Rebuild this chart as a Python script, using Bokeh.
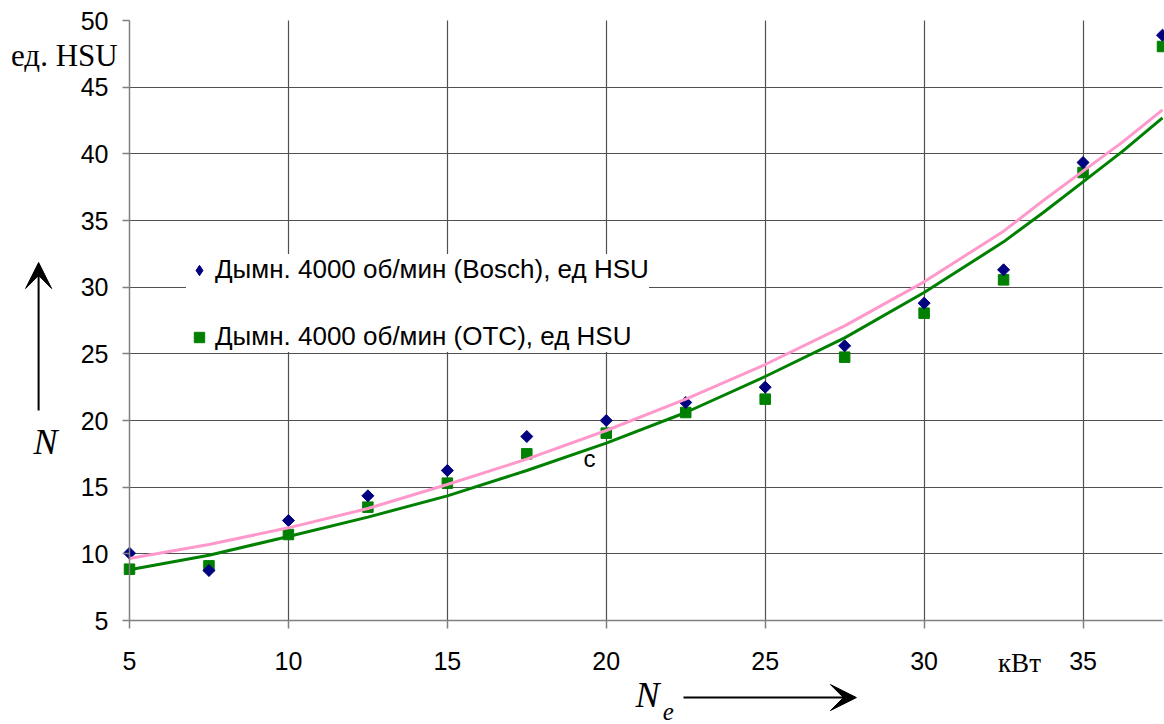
import math
from bokeh.plotting import figure
from bokeh.models import (Range1d, FixedTicker, Legend, LegendItem, Label, Arrow,
                          VeeHead, ColumnDataSource, LinearAxis, Grid)
from bokeh.embed import file_html
from bokeh.resources import INLINE

# ---- data ----
ne_kw = [5, 7.5, 10, 12.5, 15, 17.5, 20, 22.5, 25, 27.5, 30, 32.5, 35, 37.5]
smoke_bosch = [10.05, 8.75, 12.5, 14.35, 16.25, 18.8, 20.0, 21.35, 22.5, 25.6, 28.8, 31.3, 39.35, 48.9]
smoke_otc = [8.85, 9.1, 11.45, 13.5, 15.3, 17.5, 19.05, 20.6, 21.6, 24.75, 28.05, 30.55, 38.6, 48.05]

trend_x = [5, 7.5, 10, 12.5, 15, 17.5, 20, 22.5, 25, 27.5, 30, 32.5, 33.75, 35, 36.25, 37.5]
trend_bosch = [9.65, 10.7, 11.95, 13.4, 15.2, 17.1, 19.25, 21.6, 24.2, 27.1, 30.4, 34.2, 36.5, 38.7, 40.9, 43.3]
trend_otc = [8.8, 9.9, 11.3, 12.75, 14.35, 16.25, 18.3, 20.6, 23.3, 26.2, 29.6, 33.4, 35.6, 37.9, 40.2, 42.7]

x_ticks = [5, 10, 15, 20, 25, 30, 35]
y_ticks = [5, 10, 15, 20, 25, 30, 35, 40, 45, 50]

label_bosch = "Дымн. 4000 об/мин (Bosch), ед HSU"
label_otc = "Дымн. 4000 об/мин (OTC), ед HSU"

SANS = "Liberation Sans"
SERIF = "Liberation Serif"

# ---- layout: the frame fills the canvas, axes are pinned at the data origin ----
W, H = 1164, 724
PX_L, PX_R, PX_T, PX_B = 129, 1162, 20, 620      # pixel box of the data area
X0, X1, Y0, Y1 = 5, 37.5, 5, 50
kx = (PX_R - PX_L) / (X1 - X0)
ky = (PX_B - PX_T) / (Y1 - Y0)
x_range = Range1d(X0 - PX_L / kx, X1 + (W - PX_R) / kx)
y_range = Range1d(Y0 - (H - PX_B) / ky, Y1 + PX_T / ky)

p = figure(width=W, height=H, output_backend="svg", toolbar_location=None,
           x_range=x_range, y_range=y_range, x_axis_type=None, y_axis_type=None,
           min_border=0, min_border_left=0, min_border_right=0,
           min_border_top=0, min_border_bottom=0)
p.outline_line_color = None
p.background_fill_color = "white"
p.border_fill_color = "white"

GRID_COLOR = "#505050"
vgrid = Grid(dimension=0, ticker=FixedTicker(ticks=x_ticks[1:]),
             grid_line_color=GRID_COLOR, grid_line_width=1.2)
hgrid = Grid(dimension=1, ticker=FixedTicker(ticks=y_ticks[1:-1]),
             grid_line_color=GRID_COLOR, grid_line_width=1.2)
if "cross_bounds" in Grid.properties():
    vgrid.cross_bounds = (Y0, Y1)
    hgrid.cross_bounds = (X0, X1)
    p.add_layout(vgrid, "center")
    p.add_layout(hgrid, "center")
else:
    gx = x_ticks[1:]
    gy = y_ticks[1:-1]
    p.segment(x0=gx, y0=[Y0] * len(gx), x1=gx, y1=[Y1] * len(gx),
              line_color=GRID_COLOR, line_width=1.2)
    p.segment(x0=[X0] * len(gy), y0=gy, x1=[X1] * len(gy), y1=gy,
              line_color=GRID_COLOR, line_width=1.2)

def style_axis(ax):
    ax.axis_line_color = "#808080"
    ax.axis_line_width = 1.5
    ax.major_tick_line_color = "#808080"
    ax.major_tick_line_width = 1.5
    ax.major_tick_in = 0
    ax.minor_tick_line_color = None
    ax.major_label_text_font = SANS
    ax.major_label_text_font_size = "25px"
    ax.major_label_text_color = "black"

xaxis = LinearAxis(ticker=FixedTicker(ticks=x_ticks), fixed_location=Y0, bounds=(X0, X1))
style_axis(xaxis)
xaxis.major_tick_out = 8
xaxis.major_label_standoff = 23
p.add_layout(xaxis, "below")

yaxis = LinearAxis(ticker=FixedTicker(ticks=y_ticks), fixed_location=X0, bounds=(Y0, Y1))
style_axis(yaxis)
yaxis.major_tick_out = 7
yaxis.major_label_standoff = 14
p.add_layout(yaxis, "left")

# points
src = ColumnDataSource(dict(x=ne_kw, b=smoke_bosch, o=smoke_otc))
r_otc = p.scatter("x", "o", source=src, marker="square", size=10.5,
                  fill_color="#008000", line_color="#008000")
# diamond-shaped renderer (gives the legend glyph), drawn beneath the rotated squares
r_bosch_leg = p.scatter("x", "b", source=src, marker="diamond", size=10,
                        fill_color="#000080", line_color="#000080")
r_bosch = p.scatter("x", "b", source=src, marker="square", angle=math.pi / 4, size=8.5,
                    fill_color="#000080", line_color="#000080")

# trend lines
p.line(trend_x, trend_otc, line_color="#008000", line_width=3)
p.line(trend_x, trend_bosch, line_color="#FF99CC", line_width=3)

legend = Legend(items=[LegendItem(label=label_bosch, renderers=[r_bosch_leg]),
                       LegendItem(label=label_otc, renderers=[r_otc])],
                location=(186, 372), margin=0, padding=20, spacing=36,
                glyph_width=26, glyph_height=28, label_height=28, label_standoff=3,
                label_text_font=SANS, label_text_font_size="26px",
                label_text_color="black", border_line_color=None,
                background_fill_color="white", background_fill_alpha=1.0)
p.add_layout(legend, "center")

# text annotations
def lab(x, y, text, font, size, italic=False):
    return Label(x=x, y=y, text=text, text_font=font, text_font_size=size,
                 text_font_style="italic" if italic else "normal",
                 text_align="center", text_baseline="middle", text_color="black")

p.add_layout(lab(2.95, 47.4, "ед. HSU", SERIF, "31px"))
p.add_layout(lab(2.36, 18.4, "N", SERIF, "36px", italic=True))
p.add_layout(lab(33.0, 1.85, "кВт", SERIF, "27px"))
p.add_layout(lab(21.30, -0.62, "N", SERIF, "36px", italic=True))
p.add_layout(lab(21.95, -1.8, "e", SERIF, "25px", italic=True))
p.add_layout(lab(19.47, 17.15, "c", SANS, "24px"))

# arrows
p.add_layout(Arrow(x_start=2.14, y_start=20.75, x_end=2.14, y_end=31.85,
                   line_color="black", line_width=2,
                   end=VeeHead(size=26, fill_color="black", line_color="black")))
p.add_layout(Arrow(x_start=22.43, y_start=-0.78, x_end=27.87, y_end=-0.78,
                   line_color="black", line_width=2,
                   end=VeeHead(size=26, fill_color="black", line_color="black")))

open("out.html", "w").write(file_html(p, INLINE))
